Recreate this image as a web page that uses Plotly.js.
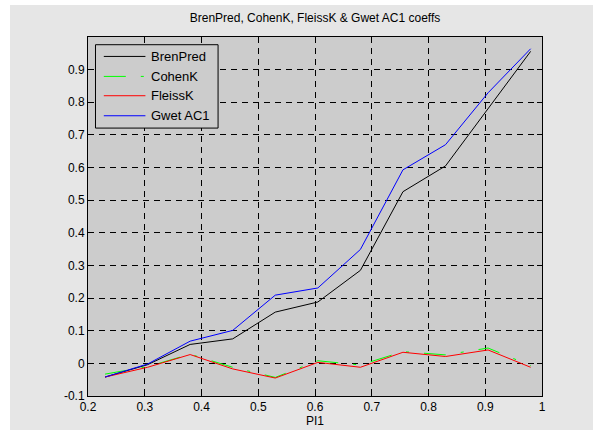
<!DOCTYPE html>
<html>
<head>
<meta charset="utf-8">
<script src="https://cdn.plot.ly/plotly-3.0.1.min.js"></script>
<style>
  html, body { margin: 0; padding: 0; background: #ffffff; }
  #chart { position: absolute; left: 10px; top: 5px; width: 583px; height: 425px; }
</style>
</head>
<body>
<div id="chart"></div>
<script>
// ---- data ----
const pi1      = [0.23, 0.305, 0.38, 0.455, 0.53, 0.605, 0.68, 0.755, 0.83, 0.905, 0.98];
const brenPred = [-0.042, -0.004, 0.058, 0.075, 0.157, 0.188, 0.285, 0.526, 0.605, 0.780, 0.956];
const cohenK   = [-0.033, -0.010, 0.028, -0.012, -0.043, 0.008, -0.005, 0.036, 0.026, 0.047, -0.007];
const fleissK  = [-0.042, -0.012, 0.027, -0.017, -0.045, 0.003, -0.012, 0.034, 0.021, 0.041, -0.012];
const gwetAC1  = [-0.042, -0.002, 0.068, 0.101, 0.209, 0.231, 0.349, 0.593, 0.670, 0.829, 0.964];

const seriesNames = ['BrenPred', 'CohenK', 'FleissK', 'Gwet AC1'];
const xTickVals = [0.2, 0.3, 0.4, 0.5, 0.6, 0.7, 0.8, 0.9, 1.0];
const xTickText = ['0.2', '0.3', '0.4', '0.5', '0.6', '0.7', '0.8', '0.9', '1'];
const yTickVals = [-0.1, 0, 0.1, 0.2, 0.3, 0.4, 0.5, 0.6, 0.7, 0.8, 0.9];
const yTickText = ['-0.1', '0', '0.1', '0.2', '0.3', '0.4', '0.5', '0.6', '0.7', '0.8', '0.9'];

const font = 'Liberation Sans, Arial, sans-serif';
const colors = ['#000000', '#00ff00', '#ff0000', '#0000ff'];
const dashes = ['solid', '22px,15px,3px,15px', 'solid', 'solid'];
const seriesData = [brenPred, cohenK, fleissK, gwetAC1];

const traces = seriesData.map((ys, i) => ({
  x: pi1, y: ys, name: seriesNames[i], mode: 'lines',
  line: { color: colors[i], width: 1, dash: dashes[i] }, showlegend: false
}));

// ---- custom legend (MATLAB-style box) ----
const legBox = { x0: 0.0165, x1: 0.2865, y0: 0.7463, y1: 0.9785 };
const legRowsY = [0.9459, 0.8902, 0.8364, 0.7806];
const legLineX = [0.0348, 0.1265];
const legTextX = 0.134;

const shapes = [{
  type: 'rect', xref: 'paper', yref: 'paper',
  x0: legBox.x0, x1: legBox.x1, y0: legBox.y0, y1: legBox.y1,
  line: { color: '#000000', width: 1 }, fillcolor: '#cccccc', layer: 'above'
}];
const annotations = [];
seriesNames.forEach((nm, i) => {
  shapes.push({
    type: 'line', xref: 'paper', yref: 'paper',
    x0: legLineX[0], x1: legLineX[1], y0: legRowsY[i], y1: legRowsY[i],
    line: { color: colors[i], width: 1, dash: dashes[i] }, layer: 'above'
  });
  annotations.push({
    xref: 'paper', yref: 'paper', x: legTextX, y: legRowsY[i],
    xanchor: 'left', yanchor: 'middle', showarrow: false, text: nm,
    font: { family: font, size: 13, color: '#000000' }
  });
});

const axisCommon = {
  showline: true, linecolor: '#000000', linewidth: 1, mirror: 'ticks',
  ticks: 'inside', ticklen: 5, tickcolor: '#000000', tickwidth: 1,
  showgrid: true, gridcolor: '#000000', gridwidth: 1, griddash: '6px,5px',
  zeroline: false, tickfont: { family: font, size: 12, color: '#000000' }
};

const layout = {
  width: 583, height: 425,
  paper_bgcolor: '#e6e6e6', plot_bgcolor: '#cccccc',
  margin: { l: 77.5, r: 51, t: 32.3, b: 34 },
  font: { family: font, size: 12, color: '#000000' },
  title: { text: 'BrenPred, CohenK, FleissK & Gwet AC1 coeffs', x: 0.5, xref: 'paper', xanchor: 'center',
           y: 0.969, yref: 'container', yanchor: 'middle', font: { family: font, size: 12, color: '#000000' } },
  xaxis: Object.assign({}, axisCommon, {
    range: [0.2, 1.0], tickvals: xTickVals, ticktext: xTickText,
    title: { text: 'PI1', font: { family: font, size: 12, color: '#000000' }, standoff: 2 }
  }),
  yaxis: Object.assign({}, axisCommon, {
    range: [-0.1, 1.0], tickvals: yTickVals, ticktext: yTickText
  }),
  showlegend: false,
  shapes: shapes,
  annotations: annotations
};

Plotly.newPlot('chart', traces, layout, { displayModeBar: false, staticPlot: true });
</script>
</body>
</html>
